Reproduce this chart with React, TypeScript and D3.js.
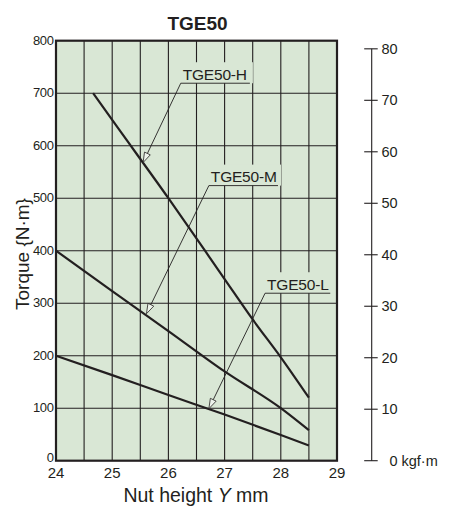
import * as React from 'react';
import * as d3 from 'd3';

// chart data
const title = 'TGE50';
const seriesNames = ['TGE50-H', 'TGE50-M', 'TGE50-L'];
const nutHeightH = [24.66, 25, 26, 27, 27.5, 28, 28.5];
const torqueH = [700, 649, 500, 346, 269, 197, 120];
const nutHeightM = [24, 25, 26, 27, 28, 28.5];
const torqueM = [400, 323, 247, 170, 100, 58];
const nutHeightL = [24, 25, 26, 27, 28, 28.5];
const torqueL = [200, 163, 125, 88, 49, 29];

const xTicks = [24, 25, 26, 27, 28, 29];
const xGrid = [24.5, 25, 25.5, 26, 26.5, 27, 27.5, 28, 28.5];
const yTicks = [0, 100, 200, 300, 400, 500, 600, 700, 800];
const kgfTicks = [0, 10, 20, 30, 40, 50, 60, 70, 80];
const NM_PER_KGFM = 9.80665;

// annotation: arrow tip on the curve, label underline start / end (data units)
const tipX = [25.55, 25.61, 26.72];
const tipY = [568, 280, 99];
const labelX0 = [26.22, 26.72, 27.72];
const labelX1 = [27.45, 27.95, 28.88];
const labelY = [719, 524, 319];

const INK = '#231f20';
const BG = '#d9e7d5';
const FONT = '"Liberation Sans", Arial, Helvetica, sans-serif';

const App: React.FC = () => {
  const W = 460;
  const H = 520;
  const left = 56, right = 337, top = 40.7, bottom = 460.7;

  const x = d3.scaleLinear().domain([24, 29]).range([left, right]);
  const y = d3.scaleLinear().domain([0, 800]).range([bottom, top]);
  const yK = d3.scaleLinear().domain([0, 800 / NM_PER_KGFM]).range([bottom, top]);

  const line = d3.line<[number, number]>()
    .x(d => x(d[0]))
    .y(d => y(d[1]))
    .curve(d3.curveMonotoneX);

  const series = [
    d3.zip(nutHeightH, torqueH) as [number, number][],
    d3.zip(nutHeightM, torqueM) as [number, number][],
    d3.zip(nutHeightL, torqueL) as [number, number][],
  ];

  const axisX = 371.7;

  return (
    <svg width={W} height={H} style={{ position: 'absolute', left: 0, top: 0, background: '#fff' }} fontFamily={FONT}>
      <text x={197.5} y={30} textAnchor="middle" fontSize={19} fontWeight="bold" fill={INK}>{title}</text>

      <rect x={left} y={top} width={right - left} height={bottom - top} fill={BG} />

      {/* grid */}
      {xGrid.map(v => (
        <line key={'gx' + v} x1={x(v)} x2={x(v)} y1={top} y2={bottom} stroke={INK} strokeWidth={1.1} />
      ))}
      {yTicks.slice(1, -1).map(v => (
        <line key={'gy' + v} x1={left} x2={right} y1={y(v)} y2={y(v)} stroke={INK} strokeWidth={1.1} />
      ))}

      {/* label boxes hide grid behind them */}
      {seriesNames.map((name, i) => {
        const x0 = x(labelX0[i]);
        const x1 = x(labelX1[i]);
        const yy = y(labelY[i]);
        return (
          <g key={name}>
            <rect x={x0 - 1} y={yy - 21} width={x1 - x0 + 4} height={21} fill={BG} />
            <text x={x0 + 2} y={yy - 3.5} fontSize={15.5} fill={INK} letterSpacing={-0.2}>{name}</text>
          </g>
        );
      })}

      {/* curves */}
      {series.map((s, i) => (
        <path key={'s' + i} d={line(s) || ''} fill="none" stroke={INK} strokeWidth={2.2} />
      ))}

      {/* leaders with open arrowheads */}
      {seriesNames.map((name, i) => {
        const x0 = x(labelX0[i]);
        const x1 = x(labelX1[i]);
        const yy = y(labelY[i]);
        const tx = x(tipX[i]);
        const ty = y(tipY[i]);
        const ang = Math.atan2(ty - yy, tx - x0);
        const len = 10, hw = 3.2;
        const bx = tx - len * Math.cos(ang);
        const by = ty - len * Math.sin(ang);
        const px = -Math.sin(ang) * hw;
        const py = Math.cos(ang) * hw;
        return (
          <g key={'ld' + name}>
            <line x1={x0} x2={x1} y1={yy} y2={yy} stroke={INK} strokeWidth={0.9} />
            <line x1={x0} y1={yy} x2={bx} y2={by} stroke={INK} strokeWidth={0.9} />
            <polygon
              points={`${tx},${ty} ${bx + px},${by + py} ${bx - px},${by - py}`}
              fill="#eef4ec" stroke={INK} strokeWidth={0.8} strokeLinejoin="miter"
            />
          </g>
        );
      })}

      {/* frame */}
      <rect x={left} y={top} width={right - left} height={bottom - top} fill="none" stroke={INK} strokeWidth={2.2} />

      {/* left axis labels */}
      {yTicks.map(v => (
        <text key={'yl' + v} x={left - 2.5} y={y(v) + (v === 0 ? 1.5 : 3.8)} textAnchor="end" fontSize={13} letterSpacing={-0.4} fill={INK}>{v}</text>
      ))}

      {/* bottom axis labels */}
      {xTicks.map(v => (
        <text key={'xl' + v} x={x(v)} y={478.3} textAnchor="middle" fontSize={15} fill={INK}>{v}</text>
      ))}

      <text x={196} y={501.7} textAnchor="middle" fontSize={19.5} fill={INK}>
        Nut height <tspan fontStyle="italic">Y</tspan> mm
      </text>

      <text transform={`translate(28.5,${254}) rotate(-90)`} textAnchor="middle" fontSize={19} fill={INK}>
        Torque {'{N·m}'}
      </text>

      {/* right axis in kgf·m */}
      <line x1={axisX} x2={axisX} y1={yK(80)} y2={yK(0)} stroke={INK} strokeWidth={1.1} />
      {kgfTicks.map(v => (
        <g key={'k' + v}>
          <line x1={axisX - 7.5} x2={axisX + 6} y1={yK(v)} y2={yK(v)} stroke={INK} strokeWidth={1.1} />
          {v === 0 ? (
            <>
              <text x={389.5} y={yK(v) + 5} fontSize={14.5} fill={INK}>0</text>
              <text x={401.5} y={yK(v) + 5} fontSize={14.5} fill={INK}>kgf·m</text>
            </>
          ) : (
            <text x={381.5} y={yK(v) + 5} fontSize={14.5} fill={INK}>{v}</text>
          )}
        </g>
      ))}
    </svg>
  );
};

export default App;
